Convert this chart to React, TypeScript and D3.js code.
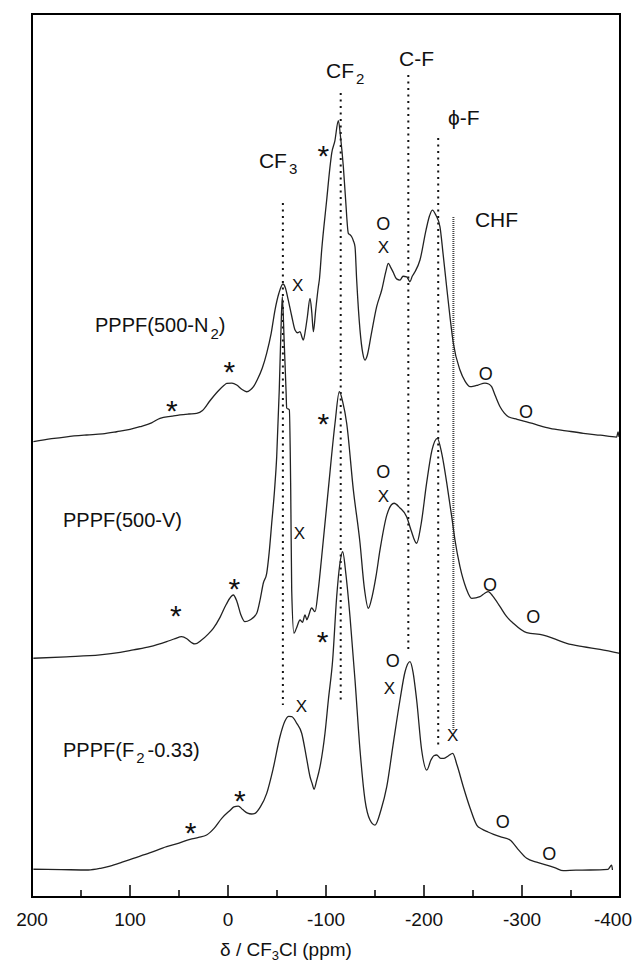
import React from "react";
import * as d3 from "d3";

const WIDTH = 633;
const HEIGHT = 966;
const PLOT = { left: 32, right: 620, top: 14, bottom: 897 };

// Chemical-shift axis (ppm), drawn high to low
const xDomain: [number, number] = [200, -400];
const majorTicks = [200, 100, 0, -100, -200, -300, -400];
const minorTicks = [150, 50, -50, -150, -250, -350];

// Vertical stacking: one shared intensity scale, each spectrum on its own baseline
const yDomain: [number, number] = [0, 100];
const seriesNames = ["PPPF(500-N2)", "PPPF(500-V)", "PPPF(F2-0.33)"];
const seriesOffsets = [52, 27.5, 3];

// 19F MAS NMR spectra: [shift ppm, intensity above baseline]
const specN2: [number, number][] = [
  [198.6, -0.44], [180, -0.1], [164.6, 0.12], [144.2, 0.32], [128, 0.45], [113.6, 0.69],
  [100, 0.95], [89.8, 1.26], [78, 1.7], [69.4, 2.21], [57, 2.45], [49, 2.59], [40, 2.7],
  [32, 2.78], [26, 3.1], [18.4, 4.2], [10, 5.3], [4, 5.95], [1.3, 6.17], [-4, 6.2],
  [-8.9, 5.98], [-14, 5.5], [-19, 5.22], [-23, 5.45], [-26, 5.8], [-30, 6.6],
  [-35, 7.9], [-39.5, 9.6], [-44, 11.8], [-48, 14.5], [-52, 16.4], [-56.1, 17.42],
  [-58.5, 17.0], [-61.5, 15.6], [-65, 13.8], [-68.4, 12.21], [-71, 11.9],
  [-73.5, 12.02], [-75.5, 11.4], [-76.9, 11.08], [-79, 12.2], [-81, 13.71],
  [-83.7, 15.8], [-85.5, 14.2], [-87.1, 12.02], [-89.5, 14.5], [-92.2, 17.11],
  [-93.2, 17.87], [-95.6, 21.27], [-100.7, 26.93], [-104, 30.6], [-105.8, 32.22],
  [-109, 33.6], [-112.6, 35.91], [-115, 33.9], [-117.7, 30.7], [-120, 27.0],
  [-122.8, 23.16], [-124.5, 23.0], [-126.2, 22.77], [-128, 22.3], [-129.6, 21.64],
  [-131.3, 17.87], [-134.7, 12.2], [-137.5, 9.6], [-139.8, 8.81], [-142, 9.3],
  [-146, 11.6], [-151.7, 14.85], [-157, 16.8], [-161, 18.8], [-163.6, 19.76],
  [-166, 19.3], [-168.4, 18.8], [-172, 18.0], [-175.5, 17.87], [-178.6, 18.3],
  [-182.3, 18.24], [-185.7, 17.68], [-188, 18.3], [-190.8, 18.81], [-195.9, 20.14],
  [-202, 23.5], [-205.5, 25.1], [-208.5, 25.8], [-212.2, 25.2], [-216.3, 23.9],
  [-219.5, 20.8], [-223.1, 17.11], [-226.5, 13.71], [-229.9, 10.74], [-236.7, 7.68],
  [-242, 6.4], [-247, 5.79], [-251, 5.85], [-255.1, 5.98], [-262.2, 6.2],
  [-266, 6.1], [-269, 5.79], [-273, 4.7], [-277.6, 3.52], [-282, 2.8],
  [-286.1, 2.39], [-295, 2.1], [-304.8, 1.82], [-316, 1.45], [-328.6, 1.08],
  [-345, 0.8], [-362.6, 0.51], [-380, 0.3], [-396.6, 0.09], [-398, 0.66], [-399, 0.1],
];

const specV: [number, number][] = [
  [198.6, -0.46], [165, -0.3], [130.6, -0.09], [110, 0.2], [96.6, 0.48], [79.6, 0.85],
  [62.6, 1.42], [54, 1.75], [47.3, 1.98], [42, 1.75], [37, 1.3], [33.7, 1.16],
  [27, 1.6], [20, 2.3], [15, 2.93], [8, 4.2], [2, 5.6], [-5.4, 6.7], [-9, 6.0],
  [-13, 4.5], [-17.3, 3.68], [-22.4, 3.87], [-29.3, 4.63], [-33, 6.3], [-36, 8.03],
  [-39.5, 9.16], [-42, 11.5], [-44.6, 14.82], [-47.5, 18.6], [-49.7, 22.37],
  [-52.3, 29.92], [-54, 36.5], [-55.4, 40.5], [-57.3, 35.5], [-59.2, 29.92],
  [-59.9, 27.88], [-62.6, 27.66], [-64, 18.6], [-65, 7.27], [-67.3, 2.37],
  [-70, 3.0], [-73.5, 3.87], [-76, 3.6], [-78.6, 4.44], [-80.5, 3.9], [-81.9, 4.25],
  [-85.4, 5.23], [-88.8, 4.81], [-92.1, 7.27], [-95.6, 11.04], [-102.3, 18.6],
  [-109.2, 26.15], [-113.6, 29.73], [-117, 28.6], [-121.1, 26.15], [-127.9, 18.6],
  [-134.7, 12.59], [-139, 7.6], [-143.2, 5.2], [-147, 6.5], [-151, 8.8],
  [-155.1, 11.8], [-162.2, 15.8], [-169.4, 17.09], [-175.5, 16.56], [-182.3, 15.57],
  [-186.7, 14.07], [-192.5, 12.56], [-196.9, 14.63], [-202.7, 19.39],
  [-208.2, 23.13], [-213.6, 24.45], [-218.4, 22.56], [-223.2, 19.39],
  [-228.3, 15.57], [-231.6, 12.93], [-236.7, 9.91], [-242.9, 7.5], [-248.7, 6.33],
  [-257.1, 6.51], [-262, 6.9], [-265.6, 7.08], [-270, 6.6], [-277.6, 5.38],
  [-284, 4.3], [-291.1, 3.5], [-304.8, 2.43], [-321.7, 2.17], [-334, 1.7],
  [-345.6, 1.23], [-362, 0.85], [-379.6, 0.55], [-400, 0.1],
];

const specF2: [number, number][] = [
  [198.6, 0.14], [170, 0.1], [142.5, 0.06], [130, 0.25], [120.4, 0.51], [108, 0.95],
  [96.6, 1.38], [80, 2.0], [62.6, 2.7], [50, 3.1], [38.8, 3.53], [30, 3.75],
  [21.8, 4.02], [14, 4.8], [6.4, 5.91], [-2, 6.8], [-6, 7.2], [-10.5, 7.3],
  [-15, 6.9], [-20, 6.5], [-24, 6.4], [-27.6, 6.48], [-33, 7.2], [-39.5, 8.74],
  [-46, 11.5], [-53, 15.15], [-58, 16.9], [-62, 17.45], [-65, 17.42], [-70, 16.7],
  [-75.2, 15.54], [-79.6, 13.08], [-83.7, 10.62], [-86, 9.8], [-87.8, 9.2],
  [-90.5, 10.2], [-93.9, 11.76], [-99, 15.57], [-102.4, 19.31], [-106.8, 23.84],
  [-110.9, 31.01], [-114, 34.6], [-117, 36.1], [-120.4, 33.47], [-124.5, 28.74],
  [-129.6, 21.57], [-134.7, 13.65], [-139.8, 7.98], [-144.9, 5.72], [-150, 5.15],
  [-156.1, 6.85], [-162, 9.49], [-168.4, 14.21], [-175.5, 19.31], [-180.6, 22.48],
  [-185.7, 23.65], [-188.8, 22.48], [-192.5, 19.31], [-197.6, 13.65],
  [-202.8, 11.38], [-207.1, 12.51], [-210, 13.0], [-212.9, 13.08], [-217, 12.7],
  [-220.4, 12.71], [-225, 13.0], [-229.3, 13.27], [-233.7, 11.95], [-240.1, 9.49],
  [-247, 7.08], [-253.8, 5.15], [-259, 4.7], [-265.3, 4.36], [-271, 4.1],
  [-277.6, 3.83], [-287.8, 3.45], [-296, 2.4], [-304.8, 1.38], [-315, 0.95],
  [-325.2, 0.62], [-334, 0.3], [-342.1, -0.02], [-355, 0.05], [-369.4, 0.06],
  [-387.8, 0.14], [-391.5, 0.62], [-392.3, 0.06],
];

const spectra = [specN2, specV, specF2];

// Peak assignments: dotted guide lines [ppm, from level, to level]
const guideNames = ["CF3", "CF2", "C-F", "phi-F", "CHF"];
const guidePpm = [-56, -115, -184, -214.5, -230];
const guideTop = [78.6, 91.05, 93.09, 85.96, 77.01];
const guideBottom = [21.74, 22.08, 27.75, 17.21, 18.8];

// Spinning sidebands (*), impurity signals (x) and (o): [ppm, intensity above baseline]
const starMarks: [number, number][][] = [
  [[57.4, 3.91], [-1.3, 8.26], [-97.2, 32.79]],
  [[53.1, 5.2], [-6.4, 8.21], [-97.2, 26.9]],
  [[38.1, 5.04], [-12.2, 8.74], [-96.6, 26.67]],
];
const crossMarks: [number, number][][] = [
  [[-71.1, 17.3], [-158.5, 21.64]],
  [[-72.8, 13.69], [-158.5, 17.92]],
  [[-75, 18.63], [-164.6, 20.63], [-229.3, 15.35]],
];
const circleMarks: [number, number][][] = [
  [[-158.5, 24.29], [-263, 7.3], [-304.1, 2.96]],
  [[-158.5, 20.67], [-267.3, 7.84], [-311.5, 4.25]],
  [[-168.1, 23.84], [-280.3, 5.53], [-327.9, 1.95]],
];

const FONT = "'Liberation Sans', Arial, Helvetica, sans-serif";

export default function App() {
  const x = d3.scaleLinear().domain(xDomain).range([PLOT.left, PLOT.right]);
  const y = d3.scaleLinear().domain(yDomain).range([PLOT.bottom, PLOT.top]);

  const lineFor = (offset: number) =>
    d3
      .line<[number, number]>()
      .x((d) => x(d[0]))
      .y((d) => y(d[1] + offset))
      .curve(d3.curveMonotoneX);

  const sub = (s: string, size = 15, dy = 6) => (
    <tspan fontSize={size} dx={2} dy={dy}>
      {s}
    </tspan>
  );

  const STAR = 30;

  return (
    <svg
      width={WIDTH}
      height={HEIGHT}
      style={{ position: "absolute", left: 0, top: 0, background: "#fff" }}
      fontFamily={FONT}
    >
      <rect x={0} y={0} width={WIDTH} height={HEIGHT} fill="#fff" />

      {/* guide lines for the assignments */}
      {guidePpm.map((p, i) => (
        <line
          key={guideNames[i]}
          x1={x(p)}
          x2={x(p)}
          y1={y(guideTop[i])}
          y2={y(guideBottom[i])}
          stroke={i === 4 ? "#444" : "#111"}
          strokeWidth={i === 4 ? 2 : 2}
          strokeDasharray={i === 4 ? "1,1" : "2,4.5"}
        />
      ))}

      {/* spectra */}
      {spectra.map((s, i) => (
        <path
          key={seriesNames[i]}
          d={lineFor(seriesOffsets[i])(s) || ""}
          fill="none"
          stroke="#222"
          strokeWidth={1.3}
          strokeLinejoin="round"
        />
      ))}

      {/* peak markers */}
      {starMarks.map((arr, i) =>
        arr.map((m, j) => (
          <text
            key={`s${i}-${j}`}
            x={x(m[0])}
            y={y(m[1] + seriesOffsets[i]) + STAR * 0.58}
            fontSize={STAR}
            textAnchor="middle"
            fill="#111"
          >
            *
          </text>
        ))
      )}
      {crossMarks.map((arr, i) =>
        arr.map((m, j) => (
          <text
            key={`x${i}-${j}`}
            x={x(m[0])}
            y={y(m[1] + seriesOffsets[i]) + 6}
            fontSize={17}
            textAnchor="middle"
            fill="#111"
          >
            X
          </text>
        ))
      )}
      {circleMarks.map((arr, i) =>
        arr.map((m, j) => (
          <text
            key={`o${i}-${j}`}
            x={x(m[0])}
            y={y(m[1] + seriesOffsets[i]) + 6.5}
            fontSize={18}
            textAnchor="middle"
            fill="#111"
          >
            O
          </text>
        ))
      )}

      {/* assignment labels */}
      <g fontSize={21} fill="#111">
        <text x={x(-31.6)} y={y(82.56)}>
          CF{sub("3")}
        </text>
        <text x={x(-100)} y={y(92.75)}>
          CF{sub("2")}
        </text>
        <text x={x(-174.5)} y={y(94.11)}>
          C-F
        </text>
        <text x={x(-224.5)} y={y(87.43)}>
          ϕ-F
        </text>
        <text x={x(-252)} y={y(75.88)}>
          CHF
        </text>
      </g>

      {/* sample labels */}
      <g fontSize={20} fill="#111">
        <text x={95} y={332}>
          PPPF(500-N{sub("2", 15, 7)}
          <tspan dy={-7}>)</tspan>
        </text>
        <text x={63} y={527}>
          PPPF(500-V)
        </text>
        <text x={63} y={757}>
          PPPF(F{sub("2", 15, 6)}
          <tspan dx={3} dy={-6}>
            -0.33)
          </tspan>
        </text>
      </g>

      {/* frame */}
      <rect
        x={PLOT.left}
        y={PLOT.top}
        width={PLOT.right - PLOT.left}
        height={PLOT.bottom - PLOT.top}
        fill="none"
        stroke="#000"
        strokeWidth={2}
      />

      {/* x axis ticks (inward) */}
      {majorTicks.map((t) => (
        <line
          key={`M${t}`}
          x1={x(t)}
          x2={x(t)}
          y1={PLOT.bottom}
          y2={PLOT.bottom - 12}
          stroke="#000"
          strokeWidth={1.5}
        />
      ))}
      {minorTicks.map((t) => (
        <line
          key={`m${t}`}
          x1={x(t)}
          x2={x(t)}
          y1={PLOT.bottom}
          y2={PLOT.bottom - 7}
          stroke="#000"
          strokeWidth={1.5}
        />
      ))}
      {majorTicks.map((t, i) => (
        <text
          key={`L${t}`}
          x={i === majorTicks.length - 1 ? WIDTH - 1 : x(t)}
          y={926}
          fontSize={19}
          textAnchor={i === majorTicks.length - 1 ? "end" : "middle"}
          fill="#111"
        >
          {t}
        </text>
      ))}

      <text x={286} y={956} fontSize={19} textAnchor="middle" fill="#111">
        δ / CF<tspan fontSize={13} dy={4}>3</tspan>
        <tspan dy={-4}>Cl (ppm)</tspan>
      </text>
    </svg>
  );
}
